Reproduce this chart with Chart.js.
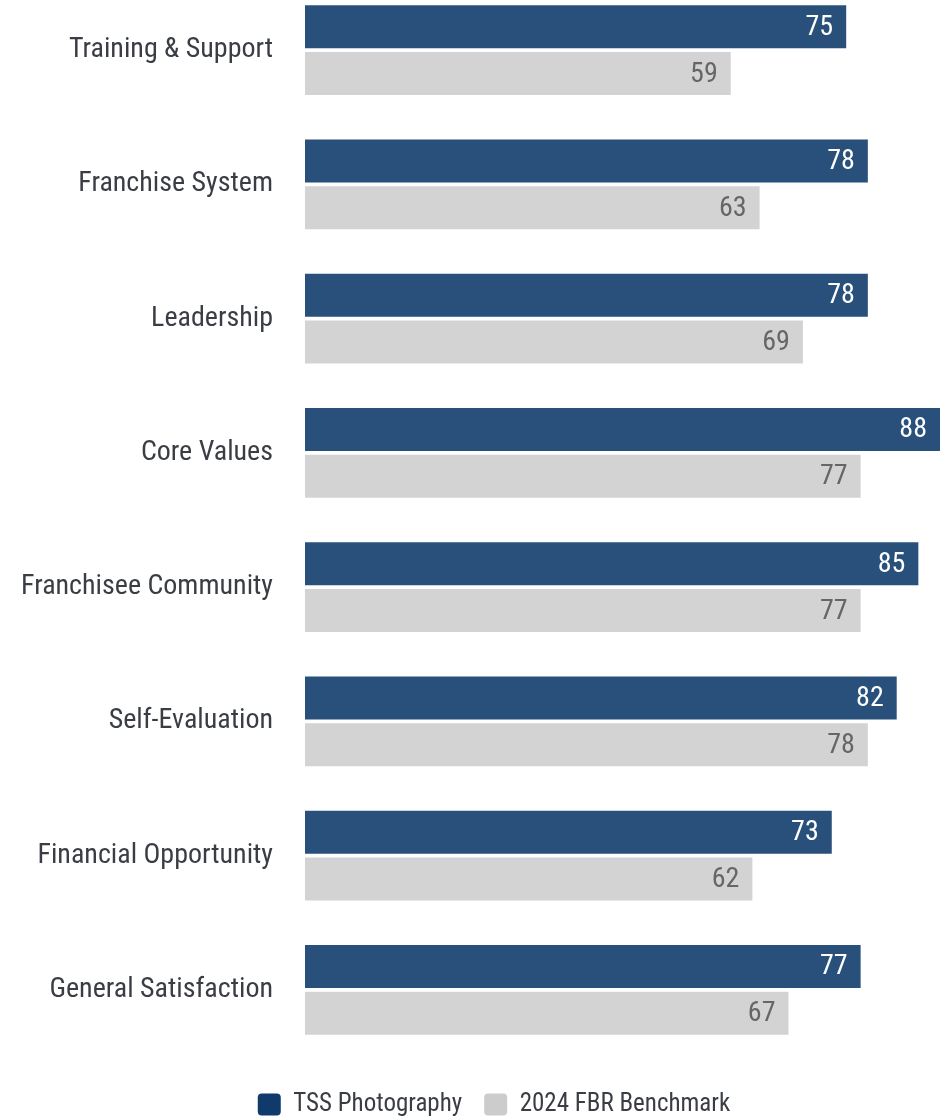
<!DOCTYPE html>
<html>
<head>
<meta charset="utf-8">
<script src="https://cdn.jsdelivr.net/npm/chart.js@4"></script>
<style>
  html, body { margin: 0; padding: 0; background: #fff; overflow: hidden; }
  #wrap { width: 946px; height: 1144px; position: absolute; left: 0; top: -17px; }
</style>
</head>
<body>
<div id="wrap"><canvas id="chart"></canvas></div>
<script>
const categories = [
  'Training & Support',
  'Franchise System',
  'Leadership',
  'Core Values',
  'Franchisee Community',
  'Self-Evaluation',
  'Financial Opportunity',
  'General Satisfaction'
];
const brandName = 'TSS Photography';
const benchmarkName = '2024 FBR Benchmark';
const brandScores = [75, 78, 78, 88, 85, 82, 73, 77];
const benchmarkScores = [59, 63, 69, 77, 77, 78, 62, 67];

const FONT = "'Roboto Condensed', 'Liberation Sans Narrow', 'DejaVu Sans Condensed', Roboto, sans-serif";
const TEXT = '#3a3e44';
Chart.defaults.font.family = FONT;

// writes each score just inside the end of its bar
const valueLabels = {
  id: 'valueLabels',
  afterDatasetsDraw(chart) {
    const ctx = chart.ctx;
    chart.data.datasets.forEach((ds, i) => {
      chart.getDatasetMeta(i).data.forEach((bar, j) => {
        ctx.save();
        ctx.font = '28px ' + FONT;
        ctx.fillStyle = ds.valueColor;
        ctx.textAlign = 'right';
        ctx.textBaseline = 'middle';
        ctx.fillText(ds.data[j], bar.x - 13, bar.y + 1);
        ctx.restore();
      });
    });
  }
};

// nudge the legend a little right of the canvas centre
const legendShift = {
  id: 'legendShift',
  afterLayout(chart) {
    chart.legend.left += 24;
    chart.legend.right += 24;
  }
};

new Chart(document.getElementById('chart'), {
  type: 'bar',
  data: {
    labels: categories,
    datasets: [
      {
        label: brandName,
        data: brandScores,
        backgroundColor: '#28507b',
        legendColor: '#0f3a6b',
        valueColor: '#ffffff'
      },
      {
        label: benchmarkName,
        data: benchmarkScores,
        backgroundColor: '#d3d3d3',
        legendColor: '#cccccc',
        valueColor: '#666666'
      }
    ]
  },
  options: {
    indexAxis: 'y',
    responsive: true,
    maintainAspectRatio: false,
    animation: false,
    categoryPercentage: 0.70,
    barPercentage: 0.915,
    layout: { padding: { top: 0, right: 6, bottom: 0, left: 0 } },
    scales: {
      x: {
        min: 0,
        max: 88,
        grid: { display: false, drawTicks: false },
        border: { display: false },
        ticks: { display: false },
        afterFit(scale) { scale.height = 13; }
      },
      y: {
        grid: { display: false, drawTicks: false },
        border: { display: false },
        ticks: { color: TEXT, padding: 32, font: { size: 28 } },
        afterFit(scale) {
          scale.width = 305;
          scale.paddingTop = 0;
          scale.paddingBottom = 0;
        }
      }
    },
    plugins: {
      tooltip: { enabled: false },
      legend: {
        position: 'bottom',
        labels: {
          color: TEXT,
          font: { size: 25 },
          boxWidth: 23,
          boxHeight: 22,
          padding: 22,
          useBorderRadius: true,
          borderRadius: 4,
          generateLabels(chart) {
            return chart.data.datasets.map((ds, i) => ({
              text: ds.label,
              fillStyle: ds.legendColor,
              strokeStyle: ds.legendColor,
              lineWidth: 0,
              borderRadius: 4,
              fontColor: TEXT,
              datasetIndex: i
            }));
          }
        }
      }
    }
  },
  plugins: [valueLabels, legendShift]
});
</script>
</body>
</html>
